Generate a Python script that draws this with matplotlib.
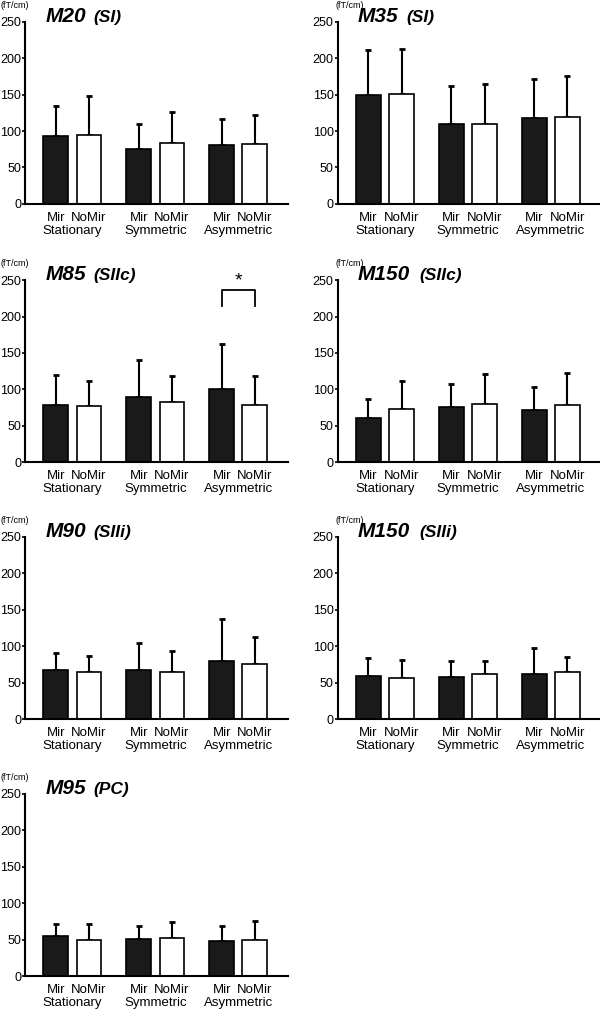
import numpy as np
import matplotlib
matplotlib.use("Agg")
import matplotlib.pyplot as plt
import matplotlib.transforms as mtransforms

plt.rcParams['font.family'] = ['Liberation Sans', 'DejaVu Sans']

conditions = ["Stationary", "Symmetric", "Asymmetric"]
mirror_labels = ["Mir", "NoMir"]

panel_names = ["M20", "M35", "M85", "M150", "M90", "M150", "M95"]
panel_areas = ["(SI)", "(SI)", "(SIIc)", "(SIIc)", "(SIIi)", "(SIIi)", "(PC)"]

# moyennes (fT/cm) : [Stationary, Symmetric, Asymmetric]
mir_mean = [
    [93, 75, 81],
    [150, 109, 118],
    [79, 89, 101],
    [60, 76, 71],
    [67, 68, 79],
    [59, 58, 62],
    [55, 51, 48],
]
nomir_mean = [
    [94, 84, 82],
    [151, 110, 119],
    [77, 83, 79],
    [73, 80, 78],
    [64, 64, 75],
    [56, 62, 64],
    [49, 52, 49],
]
# sommet des barres d'erreur
mir_top = [
    [134, 110, 117],
    [211, 162, 172],
    [119, 140, 162],
    [87, 107, 103],
    [91, 105, 137],
    [84, 80, 98],
    [72, 68, 68],
]
nomir_top = [
    [148, 126, 122],
    [212, 164, 175],
    [111, 118, 118],
    [112, 121, 122],
    [86, 94, 113],
    [81, 80, 85],
    [71, 74, 75],
]

# panneau avec différence significative (index du panneau, index de la condition)
signif = [(2, 2)]

fig = plt.figure(figsize=(6, 10.09), dpi=100)

lefts = [0.042, 0.563]
bottoms = [0.798, 0.542, 0.2874, 0.0327]
w, h = 0.438, 0.1804

x = np.arange(len(conditions))
off = 0.2
bw = 0.3

for i in range(len(panel_names)):
    col = i % 2
    ax = fig.add_axes([lefts[col], bottoms[i // 2], w, h])
    m1 = np.array(mir_mean[i])
    m2 = np.array(nomir_mean[i])
    e1 = np.array(mir_top[i]) - m1
    e2 = np.array(nomir_top[i]) - m2

    ax.errorbar(x - off, m1, yerr=[np.zeros(3), e1], fmt='none', ecolor='black',
                elinewidth=1.5, capsize=2.5, capthick=2, zorder=1)
    ax.errorbar(x + off, m2, yerr=[np.zeros(3), e2], fmt='none', ecolor='black',
                elinewidth=1.5, capsize=2.5, capthick=2, zorder=1)
    ax.bar(x - off, m1, width=bw, color='#1a1a1a', edgecolor='black', linewidth=1.2, zorder=2)
    ax.bar(x + off, m2, width=bw, color='white', edgecolor='black', linewidth=1.2, zorder=2)

    ax.set_xlim(-0.57, 2.6)
    ax.set_ylim(0, 250)
    ax.set_yticks(np.arange(0, 251, 50))
    ax.spines['top'].set_visible(False)
    ax.spines['right'].set_visible(False)
    ax.spines['left'].set_linewidth(1.5)
    ax.spines['bottom'].set_linewidth(1.5)
    ax.tick_params(axis='y', direction='out', length=2, width=1.2, labelsize=9, pad=1)

    pos = np.concatenate([x - off, x + off])
    ax.set_xticks(np.sort(pos))
    ax.set_xticklabels(mirror_labels * 3, fontsize=9.5)
    ax.tick_params(axis='x', length=0, pad=6)

    trans = mtransforms.blended_transform_factory(ax.transData, ax.transAxes)
    for j, c in enumerate(conditions):
        ax.annotate(c, xy=(x[j], 0), xycoords=trans, xytext=(0, -15),
                    textcoords='offset points', ha='center', va='top', fontsize=9.5)

    ax.text(0.076, 1.0, panel_names[i], transform=ax.transAxes, fontsize=15,
            fontweight='bold', fontstyle='italic', ha='left', va='baseline')
    ax.annotate(panel_areas[i], xy=(0.076, 1.0), xycoords='axes fraction',
                xytext=(35 if len(panel_names[i]) == 3 else 44, 0),
                textcoords='offset points', fontsize=12.5, fontweight='bold',
                fontstyle='italic', ha='left', va='baseline')
    ax.annotate("(fT/cm)", xy=(0, 1), xycoords='axes fraction',
                xytext=(-18 if col == 0 else -1.5, 12),
                textcoords='offset points', fontsize=6.5, ha='left', va='center')

    for (pi, ci) in signif:
        if pi == i:
            y_leg, y_top = 215, 236
            ax.plot([ci - off, ci - off, ci + off, ci + off], [y_leg, y_top, y_top, y_leg],
                    color='black', lw=1.3)
            ax.text(ci, y_top + 1, "*", ha='center', va='bottom', fontsize=14)

fig.savefig("out.png", dpi=100)
